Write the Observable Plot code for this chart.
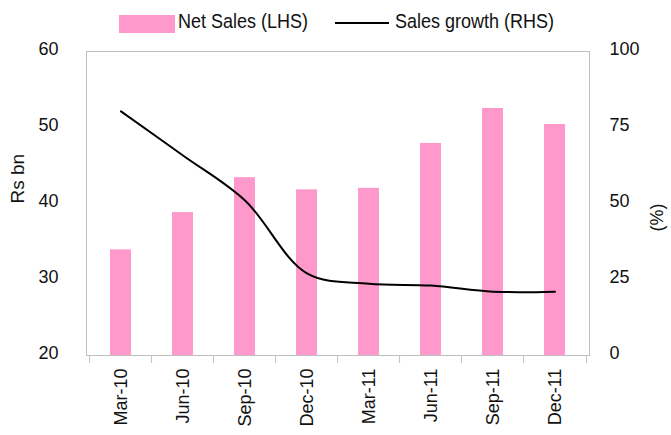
<!DOCTYPE html>
<html>
<head>
<meta charset="utf-8">
<script src="https://cdn.jsdelivr.net/npm/d3@7"></script>
<script src="https://cdn.jsdelivr.net/npm/@observablehq/plot@0.6"></script>
<style>
  body { margin: 0; background: #fff; font-family: "Liberation Sans", Arial, sans-serif; color: #111; }
  #wrap { width: 671px; height: 435px; position: relative; overflow: hidden; }
  #legend { position: relative; height: 40px; width: 671px; }
  #legend .sw { position: absolute; left: 119px; top: 15px; width: 56px; height: 18px; background: #ff99cc; }
  #legend .ln { position: absolute; left: 335px; top: 22px; width: 54px; height: 2px; background: #000; }
  #legend .t { position: absolute; top: 12px; font-size: 18px; line-height: 20px; white-space: nowrap;
               transform: scaleY(1.15); transform-origin: 0 80%; }
  svg { display: block; }
</style>
</head>
<body>
<div id="wrap">
  <div id="legend">
    <div class="sw"></div><div class="t" style="left:178px">Net Sales (LHS)</div>
    <div class="ln"></div><div class="t" style="left:395px">Sales growth (RHS)</div>
  </div>
  <div id="chart"></div>
</div>
<script>
const quarters = ["Mar-10", "Jun-10", "Sep-10", "Dec-10", "Mar-11", "Jun-11", "Sep-11", "Dec-11"];
const netSales = [33.9, 38.8, 43.4, 41.8, 42.0, 47.9, 52.5, 50.4];   // Rs bn (LHS)
const salesGrowth = [80.3, 65.8, 51.0, 27.0, 23.6, 23.0, 21.0, 21.0]; // % (RHS)
const leftTicks = [20, 30, 40, 50, 60];
const rightTicks = [0, 25, 50, 75, 100];

const data = quarters.map((q, i) => ({q, sales: netSales[i], growth: salesGrowth[i]}));
// map RHS (0–100 %) onto LHS (20–60) domain
const toLeft = v => 20 + v * 40 / 100;

const W = 671, H = 395, ML = 86, MR = 82, MT = 11, MB = 80;
const step = (W - ML - MR) / quarters.length;
const grey = "#c0c0c0";

const chart = Plot.plot({
  width: W, height: H,
  marginLeft: ML, marginRight: MR, marginTop: MT, marginBottom: MB,
  style: {fontFamily: "'Liberation Sans', Arial, sans-serif", fontSize: "18px", color: "#111", background: "#fff"},
  x: {domain: quarters, paddingInner: 0.66, paddingOuter: 0.33, align: 0.5},
  y: {domain: [20, 60]},
  marks: [
    Plot.barY(data, {x: "q", y1: 20, y2: "sales", fill: "#ff99cc"}),
    Plot.line(data, {x: "q", y: d => toLeft(d.growth), stroke: "#000", strokeWidth: 2, curve: "catmull-rom"}),
    Plot.frame({stroke: grey}),
    // category boundary ticks
    Plot.axisX({tickSize: 8, tickFormat: () => "", dx: -step / 2, stroke: grey, label: null}),
    Plot.axisX([quarters[quarters.length - 1]], {tickSize: 8, tickFormat: () => "", dx: step / 2, stroke: grey, label: null}),
    // category labels
    Plot.axisX({tickSize: 0, tickPadding: 13, tickRotate: -90, label: null, fontSize: 18}),
    // left axis
    Plot.axisY(leftTicks, {anchor: "left", tickSize: 0, tickPadding: 28, label: null, dy: -2, fontSize: 18}),
    // right axis
    Plot.axisY(leftTicks, {anchor: "right", tickSize: 0, tickPadding: 20, label: null, dy: -2, fontSize: 18,
      tickFormat: d => rightTicks[leftTicks.indexOf(d)]}),
    Plot.text(["Rs bn"], {frameAnchor: "left", dx: -69, rotate: -90, fontSize: 19, text: d => d}),
    Plot.text(["(%)"], {frameAnchor: "right", dx: 68, rotate: -90, fontSize: 18, text: d => d})
  ]
});
document.getElementById("chart").appendChild(chart);
</script>
</body>
</html>
